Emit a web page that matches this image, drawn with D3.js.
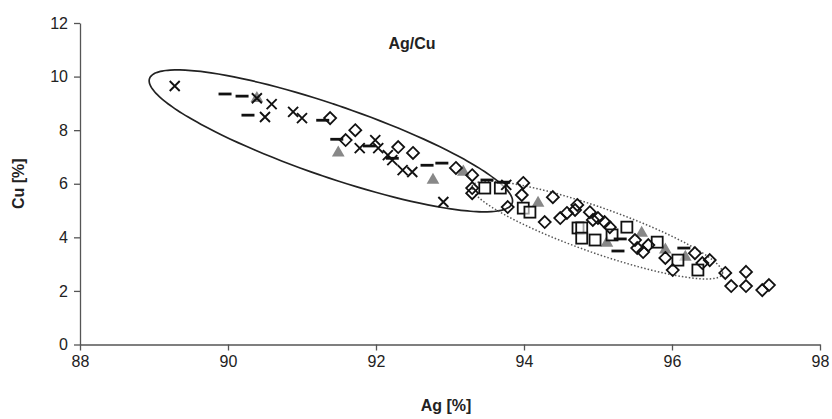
<!DOCTYPE html>
<html>
<head>
<meta charset="utf-8">
<script src="https://cdn.jsdelivr.net/npm/d3@7"></script>
<style>
  body { margin: 0; background: #fff; }
  svg { display: block; font-family: "Liberation Sans", Arial, sans-serif; }
</style>
</head>
<body>
<div class="canvas"></div>
<script>
// data, [Ag %, Cu %]
var crosses = [[89.28,9.65],[90.39,9.19],[90.59,8.97],[90.50,8.49],[90.88,8.68],[91.00,8.45],
  [91.78,7.33],[91.99,7.63],[92.03,7.33],[92.16,7.07],[92.22,6.88],[92.36,6.51],[92.49,6.44],
  [92.91,5.32],[93.76,5.96]];
var dashes = [[89.96,9.35],[90.19,9.27],[90.27,8.56],[91.28,8.37],[91.47,7.66],[91.91,7.41],
  [92.22,6.95],[92.69,6.69],[92.89,6.77],[93.50,6.14],[93.72,6.06],[95.30,3.94],[95.27,3.49],[96.16,3.60]];
var triangles = [[90.39,9.19],[91.49,7.15],[92.77,6.14],[93.18,6.44],[94.19,5.28],[95.12,3.79],
  [95.59,4.16],[95.91,3.53],[96.18,3.26]];
var diamonds = [[91.38,8.45],[91.59,7.63],[91.72,8.00],[92.30,7.37],[92.50,7.15],[93.08,6.59],
  [93.30,6.32],[93.30,5.84],[93.30,5.65],[93.99,6.03],[93.97,5.58],[93.78,5.13],[94.39,5.50],
  [94.28,4.57],[94.49,4.72],[94.58,4.91],[94.69,5.02],[94.72,5.21],[94.89,4.94],[94.93,4.65],
  [95.00,4.72],[95.09,4.57],[95.16,4.38],[95.50,3.90],[95.53,3.60],[95.61,3.45],[95.68,3.71],
  [95.91,3.23],[96.01,2.78],[96.31,3.41],[96.41,3.04],[96.51,3.15],[96.72,2.67],[97.00,2.71],
  [96.80,2.18],[97.00,2.18],[97.22,2.03],[97.31,2.22]];
var squares = [[93.47,5.84],[93.68,5.84],[93.99,5.09],[94.08,4.94],[94.73,4.35],[94.78,4.35],
  [94.78,3.97],[94.96,3.90],[95.19,4.09],[95.39,4.38],[95.80,3.82],[96.08,3.15],[96.35,2.78]];

// ellipses: centre and two conjugate half-axes, in data units
var solidEllipse = {c: [91.39,7.60], u: [2.45,-2.33], v: [0.16,1.26]};
var dottedEllipse = {c: [94.99,4.27], u: [1.69,-1.64], v: [0.10,0.80]};

var xTicks = [88,90,92,94,96,98];
var yTicks = [0,2,4,6,8,10,12];

var width = 832, height = 419;
var svg = d3.select(".canvas").append("svg")
    .attr("width", width)
    .attr("height", height);

var x = d3.scaleLinear().domain([88,98]).range([80,820]);
var y = d3.scaleLinear().domain([0,12]).range([344.5,23]);

var axisColor = "#555";

// axes
var gx = svg.append("g")
    .attr("transform", "translate(0," + y(0) + ")")
    .call(d3.axisBottom(x).tickValues(xTicks).tickSize(6).tickSizeOuter(0).tickPadding(5));
var gy = svg.append("g")
    .attr("transform", "translate(" + x(88) + ",0)")
    .call(d3.axisLeft(y).tickValues(yTicks).tickSize(6).tickSizeOuter(0).tickPadding(6));
[gx, gy].forEach(function(g) {
  g.select(".domain").attr("stroke", axisColor).attr("stroke-width", 1.3);
  g.selectAll(".tick line").attr("stroke", axisColor).attr("stroke-width", 1.3);
  g.selectAll(".tick text").attr("fill", "#222").attr("font-size", 16)
    .attr("font-family", "Liberation Sans, Arial, sans-serif");
});

// ellipses
function ellipsePoints(e) {
  return d3.range(0, 360, 3).map(function(a) {
    var t = a * Math.PI / 180;
    return [e.c[0] + e.u[0]*Math.cos(t) + e.v[0]*Math.sin(t),
            e.c[1] + e.u[1]*Math.cos(t) + e.v[1]*Math.sin(t)];
  });
}
var line = d3.line().x(function(d){return x(d[0]);}).y(function(d){return y(d[1]);}).curve(d3.curveCardinalClosed);

svg.append("path")
    .attr("d", line(ellipsePoints(solidEllipse)))
    .attr("fill", "none")
    .attr("stroke", "#222")
    .attr("stroke-width", 1.7);

svg.append("path")
    .attr("d", line(ellipsePoints(dottedEllipse)))
    .attr("fill", "none")
    .attr("stroke", "#555")
    .attr("stroke-width", 1.5)
    .attr("stroke-dasharray", "1.5 2");

// markers
svg.selectAll("path.tri").data(triangles).enter().append("path")
    .attr("class", "tri")
    .attr("d", d3.symbol().type(d3.symbolTriangle).size(70))
    .attr("transform", function(d){return "translate(" + x(d[0]) + "," + y(d[1]) + ")";})
    .attr("fill", "#888");

svg.selectAll("rect.sq").data(squares).enter().append("rect")
    .attr("class", "sq")
    .attr("x", function(d){return x(d[0]) - 5.5;})
    .attr("y", function(d){return y(d[1]) - 5.5;})
    .attr("width", 11).attr("height", 11)
    .attr("fill", "#fff").attr("fill-opacity", 0.6)
    .attr("stroke", "#111").attr("stroke-width", 1.8);

svg.selectAll("path.dia").data(diamonds).enter().append("path")
    .attr("class", "dia")
    .attr("d", "M0,-6L6,0L0,6L-6,0Z")
    .attr("transform", function(d){return "translate(" + x(d[0]) + "," + y(d[1]) + ")";})
    .attr("fill", "none")
    .attr("stroke", "#111").attr("stroke-width", 1.8);

svg.selectAll("path.cross").data(crosses).enter().append("path")
    .attr("class", "cross")
    .attr("d", "M-5,-5L5,5M-5,5L5,-5")
    .attr("transform", function(d){return "translate(" + x(d[0]) + "," + y(d[1]) + ")";})
    .attr("stroke", "#111").attr("stroke-width", 1.9);

svg.selectAll("line.dash").data(dashes).enter().append("line")
    .attr("class", "dash")
    .attr("x1", function(d){return x(d[0]) - 6.5;})
    .attr("x2", function(d){return x(d[0]) + 6.5;})
    .attr("y1", function(d){return y(d[1]);})
    .attr("y2", function(d){return y(d[1]);})
    .attr("stroke", "#111").attr("stroke-width", 2.8);

// titles
svg.append("text")
    .text("Ag/Cu")
    .attr("x", 412).attr("y", 49)
    .attr("text-anchor", "middle")
    .attr("font-size", 16).attr("font-weight", "bold").attr("fill", "#222");

svg.append("text")
    .text("Ag [%]")
    .attr("x", 446).attr("y", 411)
    .attr("text-anchor", "middle")
    .attr("font-size", 16).attr("font-weight", "bold").attr("fill", "#222");

svg.append("text")
    .text("Cu [%]")
    .attr("transform", "translate(24," + (y(0)+y(12))/2 + ") rotate(-90)")
    .attr("text-anchor", "middle")
    .attr("font-size", 16).attr("font-weight", "bold").attr("fill", "#222");
</script>
</body>
</html>
